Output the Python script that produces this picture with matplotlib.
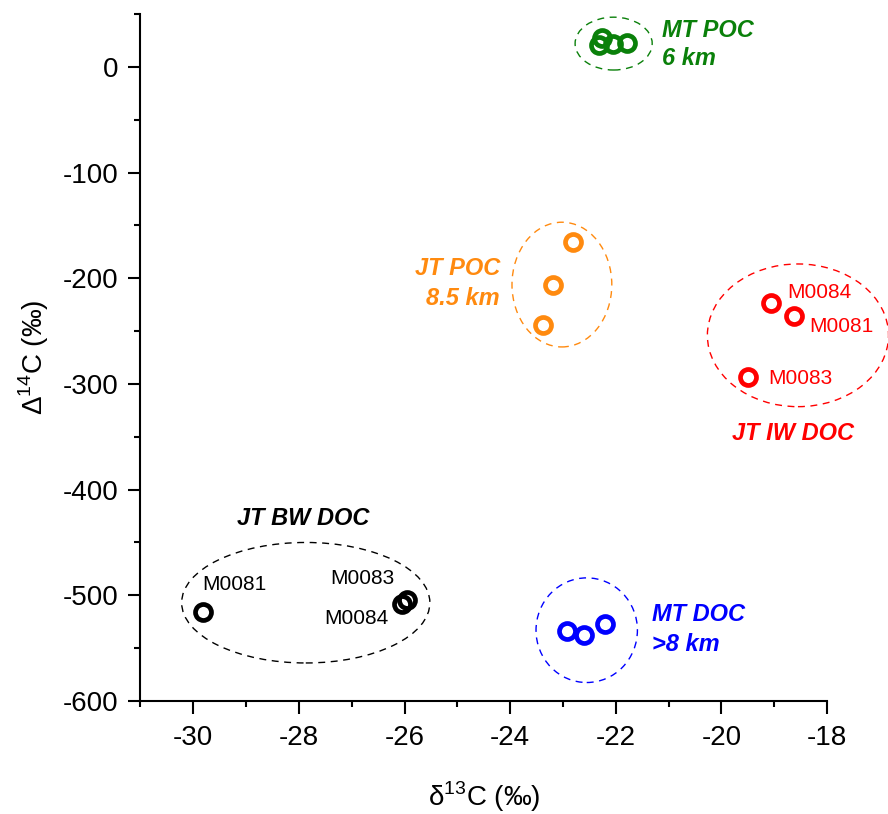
import numpy as np
import matplotlib
matplotlib.use("Agg")
import matplotlib.pyplot as plt
from matplotlib.patches import Ellipse
from matplotlib.ticker import MultipleLocator

plt.rcParams['font.family'] = ['Liberation Sans', 'DejaVu Sans']
plt.rcParams['mathtext.fontset'] = 'custom'
plt.rcParams['mathtext.rm'] = 'Liberation Sans'
plt.rcParams['axes.unicode_minus'] = False

# sample values (d13C, D14C)
mt_poc_x = [-22.32, -22.26, -22.05, -21.79]
mt_poc_y = [21, 27, 22, 23]
jt_poc_x = [-22.81, -23.18, -23.38]
jt_poc_y = [-166, -206, -244]
iw_doc_x = [-19.06, -18.62, -19.49]
iw_doc_y = [-223, -236, -293]
iw_doc_sites = ['M0084', 'M0081', 'M0083']
bw_doc_x = [-29.81, -26.05, -25.95]
bw_doc_y = [-516, -508, -504]
bw_doc_sites = ['M0081', 'M0084', 'M0083']
mt_doc_x = [-22.93, -22.60, -22.20]
mt_doc_y = [-534, -538, -527]

x_ticks = [-30, -28, -26, -24, -22, -20, -18]
y_ticks = [-600, -500, -400, -300, -200, -100, 0]

green = '#0a800a'
orange = '#ff8a0f'
red = '#ff0000'
blue = '#0000ff'
black = '#000000'

fig = plt.figure(figsize=(8.88, 8.14), dpi=100)
ax = fig.add_axes([0.1582, 0.1388, 0.9313 - 0.1582, 0.9828 - 0.1388])

mk = dict(marker='o', linestyle='none', mfc='none', ms=11.5, mew=3.4, zorder=3)
ax.plot(mt_poc_x, mt_poc_y, color=green, **mk)
ax.plot(jt_poc_x, jt_poc_y, color=orange, **mk)
ax.plot(iw_doc_x, iw_doc_y, color=red, **mk)
ax.plot(bw_doc_x, bw_doc_y, color=black, **mk)
ax.plot(mt_doc_x, mt_doc_y, color=blue, **mk)

# dashed group outlines
ell = [((-22.04, 22), 1.46, 50, green),
       ((-23.02, -206), 1.89, 118, orange),
       ((-18.55, -254), 3.43, 135, red),
       ((-27.87, -507), 4.70, 114, black),
       ((-22.55, -533), 1.92, 99, blue)]
for c, w, h, col in ell:
    ax.add_patch(Ellipse(c, w, h, fill=False, edgecolor=col, lw=1.0,
                         linestyle=(0, (5, 4)), clip_on=False))

bi = dict(fontsize=17, fontweight='bold', fontstyle='italic', va='baseline')
ax.text(-21.12, 28, 'MT POC', color=green, ha='left', **bi)
ax.text(-21.12, 1.6, '6 km', color=green, ha='left', **bi)
ax.text(-24.19, -197, 'JT POC', color=orange, ha='right', **bi)
ax.text(-24.19, -225, '8.5 km', color=orange, ha='right', **bi)
ax.text(-18.64, -353, 'JT IW DOC', color=red, ha='center', clip_on=False, **bi)
ax.text(-27.92, -433.5, 'JT BW DOC', color=black, ha='center', **bi)
ax.text(-21.32, -524, 'MT DOC', color=blue, ha='left', **bi)
ax.text(-21.32, -553, '>8 km', color=blue, ha='left', **bi)

# site labels
iw_lab = [(-18.75, -219), (-18.33, -251), (-19.12, -300)]
for s, (tx, ty) in zip(iw_doc_sites, iw_lab):
    ax.text(tx, ty, s, color=red, fontsize=15, va='baseline', ha='left')
bw_lab = [(-29.83, -495), (-27.52, -527), (-27.41, -489)]
for s, (tx, ty) in zip(bw_doc_sites, bw_lab):
    ax.text(tx, ty, s, color=black, fontsize=15, va='baseline', ha='left')

ax.set_xlim(-31, -18)
ax.set_ylim(-600, 50)
ax.set_xticks(x_ticks)
ax.set_yticks(y_ticks)
ax.xaxis.set_minor_locator(MultipleLocator(1))
ax.yaxis.set_minor_locator(MultipleLocator(50))
ax.spines['top'].set_visible(False)
ax.spines['right'].set_visible(False)
for s in ['left', 'bottom']:
    ax.spines[s].set_linewidth(1.5)
ax.tick_params(which='major', direction='out', length=9, width=1.5, labelsize=20)
ax.tick_params(which='minor', direction='out', length=4.5, width=1.5)
ax.tick_params(axis='x', which='major', pad=8)
ax.tick_params(axis='y', which='major', pad=7)

fig.text(484 / 888, 1 - 797 / 814, 'δ$^{\\mathregular{13}}$C (‰)', fontsize=20,
         ha='center', va='center')
fig.text(34 / 888, 1 - 357 / 814, 'Δ$^{\\mathregular{14}}$C (‰)', fontsize=20,
         ha='center', va='center', rotation=90)

fig.savefig('out.png', dpi=100)
